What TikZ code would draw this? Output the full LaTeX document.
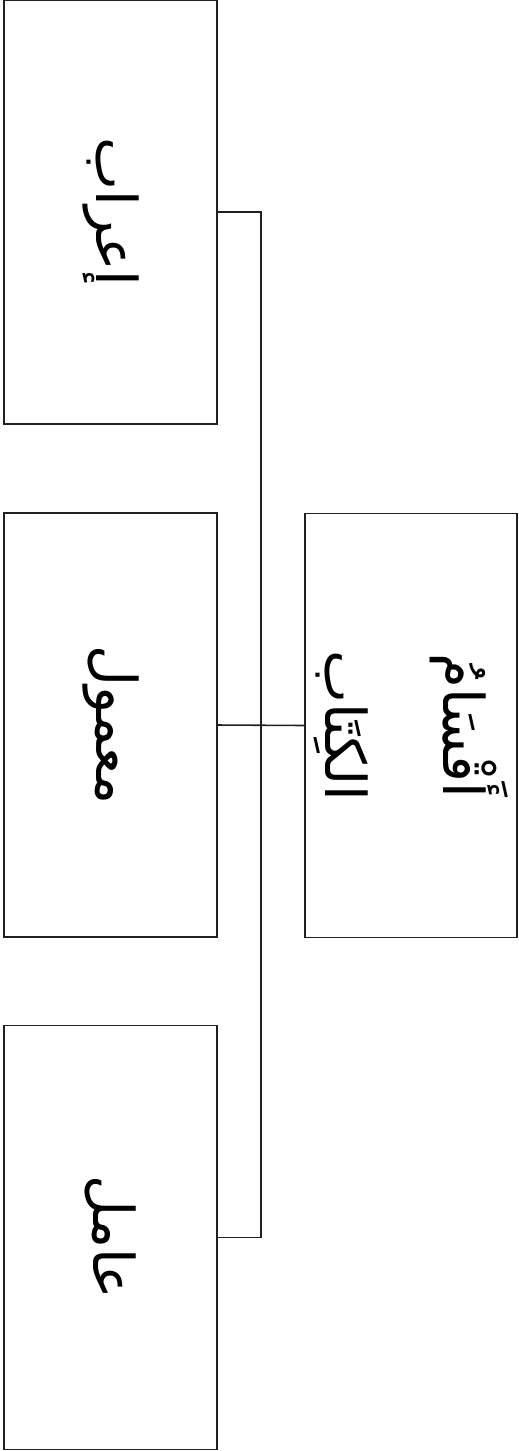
\documentclass[tikz,border=0pt]{standalone}
\usepackage{fontspec}
\newfontfamily\arabicfont[Script=Arabic]{DejaVu Sans}
\TeXXeTstate=1
\usetikzlibrary{calc}
\definecolor{encre}{RGB}{35,31,32}

\begin{document}
\begin{tikzpicture}[x=0.02cm, y=-0.02cm,
        boite/.style={draw=encre, line width=0.9pt, rotate=-90, inner sep=0pt, outer sep=0pt,
            minimum width=8.48cm, minimum height=4.26cm, align=center,
            font=\arabicfont\fontsize{32}{67}\selectfont},
        lien/.style={draw=encre, line width=0.9pt}]
    \useasboundingbox (0,0) rectangle (518,1451);

    %% racine
    \node [boite, minimum height=4.24cm] (racine) at (411,725.5) {\beginR أَقْسَامُ\endR\\\beginR الكِتَاب\endR};

    %% les trois branches
    \node [boite] (irab) at (110.5,212) {\beginR إعراب\endR};
    \node [boite] (mamul) at (110.5,725) {\beginR معمول\endR};
    \node [boite] (amil) at (110.5,1237.5) {\beginR عامل\endR};

    %% liaisons
    \coordinate (noeud) at ($(mamul.north)!0.5!(racine.south)$);
    \draw [lien] (mamul.north) -- (racine.south);
    \draw [lien] (irab.north) -| (noeud) |- (amil.north);
\end{tikzpicture}
\end{document}
